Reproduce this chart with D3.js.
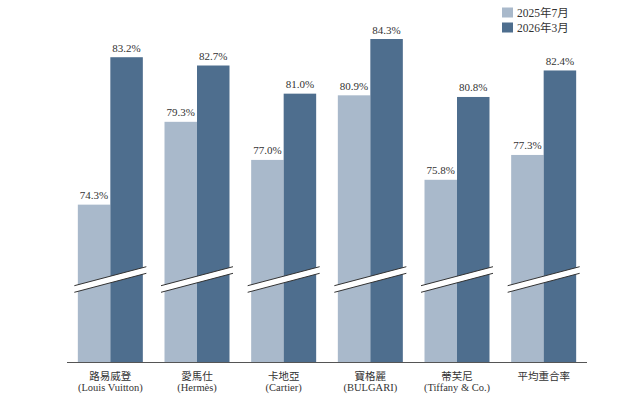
<!DOCTYPE html>
<html>
<head>
<meta charset="utf-8">
<script src="https://cdn.jsdelivr.net/npm/d3@7"></script>
<style>
  body { margin: 0; background: #fff; }
  text { font-family: "Liberation Serif", "Noto Sans CJK TC", serif; fill: #333; }
</style>
</head>
<body>
<div id="chart"></div>
<script>
// data
var brandsZh = ["路易威登", "愛馬仕", "卡地亞", "寶格麗", "蒂芙尼", "平均重合率"];
var brandsEn = ["(Louis Vuitton)", "(Hermès)", "(Cartier)", "(BULGARI)", "(Tiffany & Co.)", ""];
var seriesNames = ["2025年7月", "2026年3月"];
var jul2025 = [74.3, 79.3, 77.0, 80.9, 75.8, 77.3];
var mar2026 = [83.2, 82.7, 81.0, 84.3, 80.8, 82.4];

var width = 644, height = 408;
var colors = ["#a9b9cb", "#4e6e8e"];

var svg = d3.select("#chart")
  .append("svg")
  .attr("width", width)
  .attr("height", height)
  .attr("viewBox", "0 0 " + width + " " + height);

var x0 = d3.scaleBand()
  .domain(brandsZh)
  .range([67, 587])
  .paddingInner(0.25)
  .paddingOuter(0.125);

var x1 = d3.scaleBand()
  .domain(seriesNames)
  .range([0, x0.bandwidth()]);

// broken axis: bottom of plot is not zero
var y = d3.scaleLinear()
  .domain([64.8, 84.3])
  .range([362, 39]);

var rows = brandsZh.map(function(b, i) {
  return { zh: b, en: brandsEn[i], vals: [jul2025[i], mar2026[i]] };
});

var groups = svg.selectAll(".grp")
  .data(rows)
  .enter()
  .append("g")
  .attr("class", "grp")
  .attr("transform", function(d) { return "translate(" + x0(d.zh) + ",0)"; });

groups.selectAll("rect")
  .data(function(d) { return d.vals.map(function(v, j) { return { name: seriesNames[j], v: v, j: j }; }); })
  .enter()
  .append("rect")
  .attr("x", function(d) { return x1(d.name); })
  .attr("y", function(d) { return y(d.v); })
  .attr("width", x1.bandwidth())
  .attr("height", function(d) { return y.range()[0] - y(d.v); })
  .attr("fill", function(d) { return colors[d.j]; });

groups.selectAll(".val")
  .data(function(d) { return d.vals.map(function(v, j) { return { name: seriesNames[j], v: v }; }); })
  .enter()
  .append("text")
  .attr("class", "val")
  .attr("x", function(d) { return x1(d.name) + x1.bandwidth() / 2; })
  .attr("y", function(d) { return y(d.v) - 5.5; })
  .attr("text-anchor", "middle")
  .style("font-size", "11px")
  .text(function(d) { return d.v.toFixed(1) + "%"; });

// axis break marks
var bw = x0.bandwidth();
groups.append("polygon")
  .attr("points", function() {
    var l = -3.5, r = bw + 3.5;
    return [[l, 285.7], [r, 266.7], [r, 273.3], [l, 292.3]].join(" ");
  })
  .attr("fill", "#fff");

groups.selectAll(".brk")
  .data([[285.7, 266.7], [292.3, 273.3]])
  .enter()
  .append("line")
  .attr("class", "brk")
  .attr("x1", -3.5)
  .attr("x2", bw + 3.5)
  .attr("y1", function(d) { return d[0]; })
  .attr("y2", function(d) { return d[1]; })
  .attr("stroke", "#333")
  .attr("stroke-width", 1);

// baseline
svg.append("line")
  .attr("x1", x0.range()[0])
  .attr("x2", x0.range()[1])
  .attr("y1", y.range()[0] + 0.5)
  .attr("y2", y.range()[0] + 0.5)
  .attr("stroke", "#555")
  .attr("stroke-width", 1);

// category labels
groups.append("text")
  .attr("x", bw / 2)
  .attr("y", 380)
  .attr("text-anchor", "middle")
  .style("font-size", "10.5px")
  .text(function(d) { return d.zh; });

groups.append("text")
  .attr("x", bw / 2)
  .attr("y", 390.5)
  .attr("text-anchor", "middle")
  .style("font-size", "10.5px")
  .text(function(d) { return d.en; });

// legend
var legend = svg.selectAll(".lg")
  .data(seriesNames)
  .enter()
  .append("g")
  .attr("class", "lg")
  .attr("transform", function(d, i) { return "translate(502," + (7.5 + i * 15) + ")"; });

legend.append("rect")
  .attr("width", 11)
  .attr("height", 10)
  .attr("fill", function(d, i) { return colors[i]; });

legend.append("text")
  .attr("x", 15)
  .attr("y", 9)
  .style("font-size", "11.5px")
  .text(function(d) { return d; });
</script>
</body>
</html>
